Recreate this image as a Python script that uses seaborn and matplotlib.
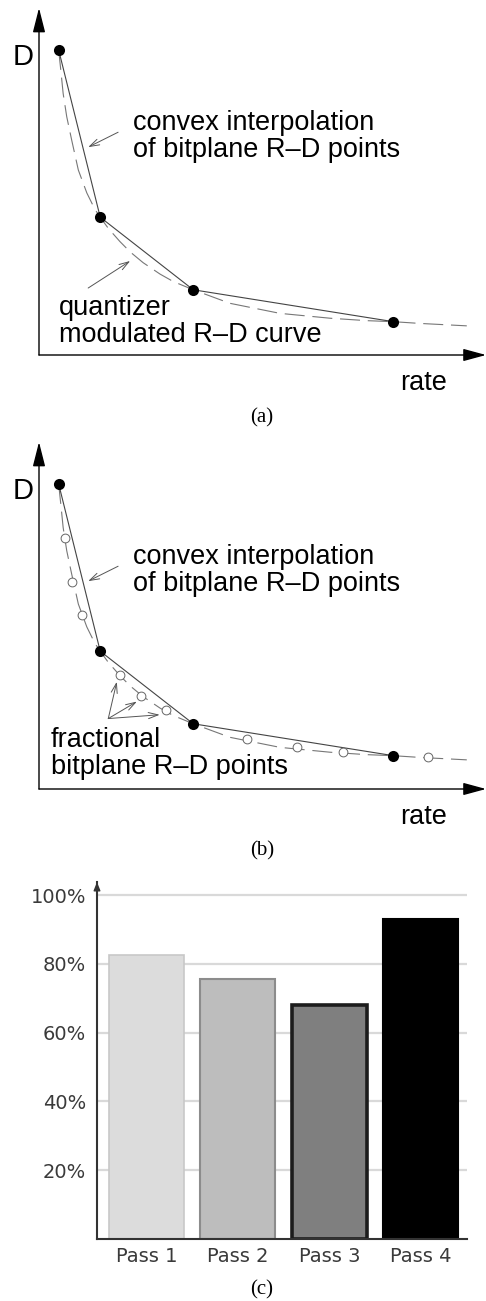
import matplotlib
matplotlib.use("Agg")
import matplotlib.pyplot as plt
import seaborn as sns

# bitplane R-D points (rate, distortion) in arbitrary units
bitplane_rate = [0.44, 1.37, 3.45, 7.93]
bitplane_dist = [8.79, 3.97, 1.88, 0.96]

# quantizer modulated R-D curve (dashed)
curve_rate = [0.44, 0.49, 0.54, 0.62, 0.73, 0.88, 1.07, 1.25, 1.37, 1.55, 1.81,
              2.04, 2.33, 2.71, 3.00, 3.45, 4.27, 5.39, 6.51, 7.33, 7.93, 8.52, 9.57]
curve_dist = [8.79, 8.18, 7.54, 6.87, 6.20, 5.33, 4.67, 4.20, 3.97, 3.65, 3.27,
              2.97, 2.66, 2.33, 2.12, 1.88, 1.49, 1.20, 1.06, 0.99, 0.96, 0.91, 0.84]

# fractional bitplane R-D points (open circles, panel b)
frac_rate = [0.58, 0.73, 0.96, 1.81, 2.28, 2.83, 4.65, 5.77, 6.81, 8.71]
frac_dist = [7.22, 5.97, 5.01, 3.29, 2.68, 2.28, 1.43, 1.20, 1.06, 0.91]

# panel c bar chart
passes = ["Pass 1", "Pass 2", "Pass 3", "Pass 4"]
pass_values = [82.5, 75.5, 68, 93]
pass_ticks = [20, 40, 60, 80, 100]
pass_tick_labels = ["20%", "40%", "60%", "80%", "100%"]

bar_fill = ["#dcdcdc", "#bdbdbd", "#7f7f7f", "#000000"]
bar_edge = ["#c8c8c8", "#8c8c8c", "#1c1c1c", "#000000"]
bar_lw = [1.2, 1.5, 2.6, 1.5]

W, H = 486, 1301
sns.set_style("white")
plt.rcParams["font.family"] = ["DejaVu Sans"]
plt.rcParams["text.color"] = "black"

fig = plt.figure(figsize=(W / 100, H / 100), dpi=100)


def box(left, top, right, bottom):
    # pixel box -> figure fraction
    return [left / W, 1 - bottom / H, (right - left) / W, (bottom - top) / H]


def axis_arrow(ax, start, end, hl, hw, lw, color):
    ax.annotate("", xy=end, xytext=start, xycoords="axes fraction",
                arrowprops=dict(arrowstyle=f"-|>,head_length={hl},head_width={hw}",
                                mutation_scale=1, shrinkA=0, shrinkB=0,
                                lw=lw, color=color))


def thin_arrow(ax, tail, tip):
    ax.annotate("", xy=tip, xytext=tail,
                arrowprops=dict(arrowstyle="->,head_length=7,head_width=2.2",
                                mutation_scale=1, shrinkA=0, shrinkB=0,
                                lw=0.7, color="#555555"))


def label(ax, x, y, s, size=19.5):
    ax.text(x, y, s, fontsize=size, family="Liberation Sans", va="baseline",
            color="black", clip_on=False)


def draw_rd(ax, fractional):
    ax.set_xlim(0, 10)
    ax.set_ylim(0, 10)
    ax.set_axis_off()
    sns.lineplot(x=curve_rate, y=curve_dist, ax=ax, color="#777777", lw=0.8,
                 linestyle=(0, (18, 7)), sort=False, estimator=None)
    sns.lineplot(x=bitplane_rate, y=bitplane_dist, ax=ax, color="#444444", lw=0.8,
                 sort=False, estimator=None)
    if fractional:
        sns.scatterplot(x=frac_rate, y=frac_dist, ax=ax, s=40, color="white",
                        edgecolor="#666666", linewidth=0.7, zorder=3)
    sns.scatterplot(x=bitplane_rate, y=bitplane_dist, ax=ax, s=64, color="black",
                    linewidth=0, zorder=4)

    axis_arrow(ax, (0, 0), (0, 1), 15, 3.8, 1.0, "black")
    axis_arrow(ax, (0, 0), (1, 0), 14, 3.8, 1.0, "black")

    label(ax, -0.6, 8.36, "D", size=21)
    label(ax, 8.08, -1.01, "rate")
    label(ax, 2.10, 6.48, "convex interpolation")
    label(ax, 2.10, 5.71, "of bitplane R–D points")
    thin_arrow(ax, (1.77, 6.42), (1.10, 5.99))

    if fractional:
        label(ax, 0.26, 1.20, "fractional")
        label(ax, 0.26, 0.43, "bitplane R–D points")
        for tip in [(1.74, 3.09), (2.19, 2.52), (2.70, 2.14)]:
            thin_arrow(ax, (1.55, 2.03), tip)
    else:
        label(ax, 0.45, 1.15, "quantizer")
        label(ax, 0.45, 0.37, "modulated R–D curve")
        thin_arrow(ax, (1.10, 1.93), (2.04, 2.71))


ax_a = fig.add_axes(box(39, 8, 486, 355))
draw_rd(ax_a, fractional=False)

ax_b = fig.add_axes(box(39, 442, 486, 789))
draw_rd(ax_b, fractional=True)

# (c) bar chart
ax_c = fig.add_axes(box(97, 882, 467, 1239))
sns.barplot(x=passes, y=pass_values, hue=passes, palette=bar_fill, legend=False,
            ax=ax_c, width=0.82, saturation=1)
for patch, ec, lw in zip(ax_c.patches, bar_edge, bar_lw):
    patch.set_edgecolor(ec)
    patch.set_linewidth(lw)

ax_c.set_xlim(-0.54, 3.505)
ax_c.set_ylim(0, 103.8)
ax_c.set_yticks(pass_ticks)
ax_c.set_yticklabels(pass_tick_labels)
ax_c.set_xlabel("")
ax_c.set_ylabel("")
ax_c.tick_params(axis="both", length=0, labelsize=14, labelcolor="#3a3a3a")
ax_c.tick_params(axis="y", pad=8)
ax_c.tick_params(axis="x", pad=6)
ax_c.yaxis.grid(True, color="#d9d9d9", lw=1.6)
ax_c.set_axisbelow(True)
for side in ["top", "right"]:
    ax_c.spines[side].set_visible(False)
for side in ["left", "bottom"]:
    ax_c.spines[side].set_color("#333333")
    ax_c.spines[side].set_linewidth(1.5)
axis_arrow(ax_c, (0, 0.97), (0, 1.0), 5, 2, 1.0, "#333333")

for s, y in [("(a)", 418), ("(b)", 851), ("(c)", 1290)]:
    fig.text(262 / W, 1 - y / H, s, ha="center", va="center",
             family="Liberation Serif", fontsize=15, color="black")

fig.savefig("out.png", dpi=100)
plt.close(fig)
